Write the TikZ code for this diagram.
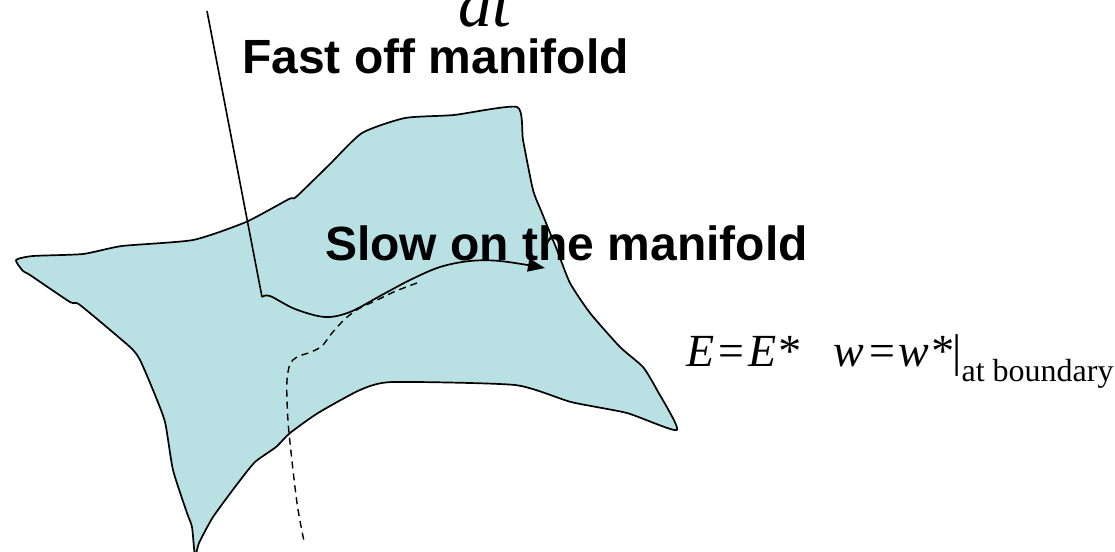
\documentclass[tikz,border=0pt]{standalone}
\usepackage{fontspec}
\setmainfont{Liberation Serif}
\setsansfont{Liberation Sans}
\usetikzlibrary{arrows.meta}
\definecolor{manifoldfill}{RGB}{185,224,227}
\tikzset{
  outline/.style={draw=black,line width=1.7pt,fill=manifoldfill,line join=round},
  fastline/.style={draw=black,line width=1.6pt},
  traj/.style={draw=black,line width=1.7pt,-{Triangle[length=17pt,width=13pt]}},
  dashpath/.style={draw=black,line width=1.4pt,dash pattern=on 7pt off 5pt},
  boldlabel/.style={anchor=base west,inner sep=0pt,font=\fontsize{48}{58}\selectfont\sffamily\bfseries},
  eqlabel/.style={anchor=base west,inner sep=0pt,font=\fontsize{46}{55}\selectfont},
}
\begin{document}
\begin{tikzpicture}[x=1pt,y=-1pt]
\useasboundingbox (0,0) rectangle (1115,551);
\clip (0,0) rectangle (1115,551);
% manifold surface
\path[outline] plot[smooth cycle,tension=0.35] coordinates {
 (16,260) (33,256) (83,254) (122,246) (193,240) (246,222) (289,199) (296,197)
 (329,165) (362,133) (405,118) (454,115) (517,107) (523,140) (533,190) (542,213)
 (557,250) (570,283) (590,313) (620,347) (643,367) (657,390) (677,430)
 (627,413) (571,402) (515,385) (392,382) (360,390) (318,413) (290,433) (276,447)
 (255,462) (238,483) (213,517) (199,543) (195,556)
 (192,527) (187,513) (173,470) (165,422) (153,390) (140,360) (130,347)
 (80,305) (70,302) (30,275) (23,271)};
% dashed path
\coordinate (dA) at (417,283);
\coordinate (dB) at (304,541);
\draw[dashpath] plot[smooth,tension=0.5] coordinates {
 (dA) (396,291) (375,301) (360,308) (346,318) (332,333) (322,346) (311,352)
 (297,357) (290,364) (287,380) (287,400) (289,433) (297,503) (dB)};
% fast approach then slow motion on the manifold
\coordinate (fTop) at (207,11);
\coordinate (fBend) at (262,297);
\coordinate (sEnd) at (545,268);
\draw[fastline] (fTop) -- (fBend);
\draw[traj] plot[smooth,tension=0.55] coordinates {
 (fBend) (270,296) (295,309) (325,317) (350,312) (380,296) (410,280) (440,267)
 (470,261) (500,261) (sEnd)};
% labels
\node[anchor=base west,inner sep=0pt,font=\fontsize{68}{80}\selectfont\itshape] (dt) at (458,27) {dt};
\node[boldlabel] (fast) at (242,74) {Fast off manifold};
\node[boldlabel] (slow) at (325,260) {Slow on the manifold};
\node[eqlabel] (eq) at (686,366) {\itshape E\kern1.5pt=\kern1.5pt E*\ \ \ w\kern1.5pt=\kern1.5pt w*\upshape|\raisebox{-15pt}{\fontsize{32}{38}\selectfont at boundary}};
\end{tikzpicture}
\end{document}
